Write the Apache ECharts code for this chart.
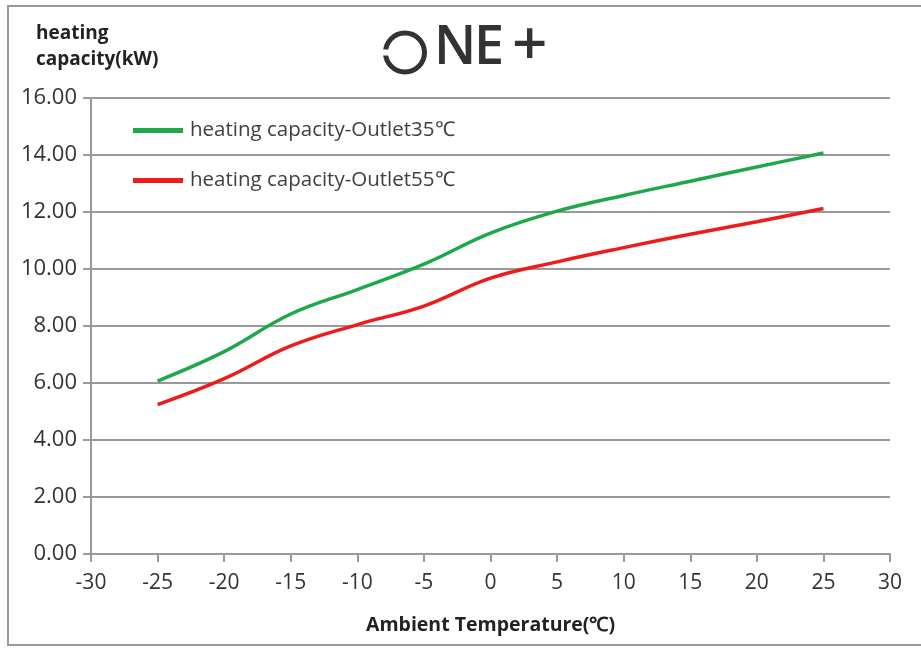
<!DOCTYPE html>
<html><head><meta charset="utf-8">
<script src="https://cdn.jsdelivr.net/npm/echarts@6/dist/echarts.min.js"></script>
<style>html,body{margin:0;padding:0;background:#fff}#c{width:921px;height:651px}</style>
</head><body><div id="c"></div>
<script>
var temps = [-25, -20, -15, -10, -5, 0, 5, 10, 15, 20, 25];
var outlet35 = [6.07, 7.1, 8.42, 9.28, 10.17, 11.26, 12.03, 12.58, 13.08, 13.58, 14.07];
var outlet55 = [5.24, 6.15, 7.3, 8.05, 8.7, 9.68, 10.25, 10.75, 11.22, 11.66, 12.12];
var seriesNames = ['heating capacity-Outlet35\u2103', 'heating capacity-Outlet55\u2103'];
var yAxisTitle = ['heating', 'capacity(kW)'];
var xAxisTitle = 'Ambient Temperature(\u2103)';
var logoLetters = ['N', 'E', '+'];

var chart = echarts.init(document.getElementById('c'));
var font = 'Open Sans';
chart.setOption({
  animation: false,
  backgroundColor: '#fff',
  grid: {left: 91, right: 31, top: 98, bottom: 97},
  legend: {
    orient: 'vertical', left: 128, top: 115, itemGap: 29,
    icon: 'rect', itemWidth: 50, itemHeight: 5,
    textStyle: {fontFamily: font, fontSize: 20.5, color: '#404040', padding: [0, 0, 0, 2]},
    data: seriesNames
  },
  xAxis: {
    type: 'value', min: -30, max: 30, interval: 5,
    name: xAxisTitle, nameLocation: 'middle', nameGap: 61,
    nameTextStyle: {fontFamily: font, fontSize: 19.5, fontWeight: 'bold', color: '#222'},
    axisLine: {onZero: false, lineStyle: {color: '#9a9a9a', width: 2}},
    axisTick: {show: true, length: 8, lineStyle: {color: '#9a9a9a', width: 2}},
    axisLabel: {fontFamily: font, fontSize: 21, color: '#333', margin: 19},
    splitLine: {show: false}
  },
  yAxis: {
    type: 'value', min: 0, max: 16, interval: 2,
    axisLine: {show: true, onZero: false, lineStyle: {color: '#9a9a9a', width: 2}},
    axisTick: {show: true, length: 8, lineStyle: {color: '#9a9a9a', width: 2}},
    axisLabel: {fontFamily: font, fontSize: 22, color: '#333', margin: 14,
      formatter: function (v) { return v.toFixed(2); }},
    splitLine: {lineStyle: {color: '#9a9a9a', width: 2}}
  },
  series: [
    {name: seriesNames[0], type: 'line', smooth: 0.4, showSymbol: false,
     color: '#1fa84a', lineStyle: {width: 3.5, color: '#1fa84a'},
     data: temps.map(function (t, i) { return [t, outlet35[i]]; })},
    {name: seriesNames[1], type: 'line', smooth: 0.4, showSymbol: false,
     color: '#ee1b1b', lineStyle: {width: 3.5, color: '#ee1b1b'},
     data: temps.map(function (t, i) { return [t, outlet55[i]]; })}
  ],
  graphic: [
    {type: 'rect', shape: {x: 8, y: 6, width: 930, height: 639},
     style: {fill: 'none', stroke: '#9a9a9a', lineWidth: 2}, silent: true},
    {type: 'text', left: 36, top: 24,
     style: {text: yAxisTitle[0], font: 'bold 19px "Open Sans"', fill: '#222'}},
    {type: 'text', left: 36, top: 50,
     style: {text: yAxisTitle[1], font: 'bold 19px "Open Sans"', fill: '#222'}},
    {type: 'circle', z: 1, shape: {cx: 405, cy: 52.5, r: 19.5},
     style: {stroke: '#333', lineWidth: 5, fill: 'none'}},
    {type: 'rect', z: 2, shape: {x: 380, y: 49.5, width: 10, height: 6},
     style: {fill: '#fff'}},
    {type: 'text', left: 434, top: 22,
     style: {text: logoLetters[0], font: '600 54px "Open Sans"', fill: '#333'}},
    {type: 'text', left: 474, top: 22,
     style: {text: logoLetters[1], font: '600 54px "Open Sans"', fill: '#333'}},
    {type: 'text', left: 512, top: 16,
     style: {text: logoLetters[2], font: '600 62px "Open Sans"', fill: '#333'}}
  ]
});
</script></body></html>
